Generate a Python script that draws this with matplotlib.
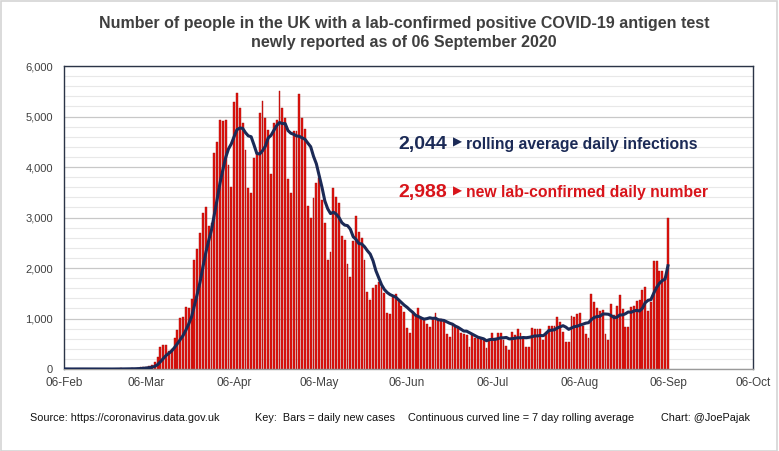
import matplotlib
matplotlib.use("Agg")
import matplotlib.pyplot as plt
import matplotlib.dates as mdates
import matplotlib.patches as patches
import pandas as pd

# daily newly reported lab-confirmed cases, 06 Feb 2020 .. 06 Sep 2020
daily_cases = [
    2, 0, 1, 0, 4, 0, 1, 0, 0, 0, 0, 0, 0, 0, 0, 0, 0, 0, 0, 0, 13, 0, 3,
    4, 10, 5, 12, 30, 30, 45, 50, 70, 130,
    245, 435, 475, 475, 350, 400, 610, 770, 1010, 1030,
    1235, 1200, 1390, 2160, 2375, 2700, 3085, 3200, 2830, 2900,
    4283, 4501, 4930, 4910, 4930, 4039, 3610, 5293, 5459, 5162,
    4864, 4336, 3590, 3491, 4172, 4270, 5075, 5313, 4963, 4732,
    3855, 4864, 4930, 5511, 5162, 4963, 3762, 3491, 4712, 4712,
    5445, 4963,
    4752, 3234, 2996, 3379, 3676, 3775, 3346, 2884, 2158, 2323,
    3577, 3412, 3293, 2633, 2554, 2079, 1828, 2534, 3036, 2719,
    2588, 2158, 1531, 1366, 1597, 1663, 1729, 1630, 1498, 1115,
    1082, 1419, 1485, 1366, 1247, 1135, 818, 706, 1102, 1069,
    1201, 1036, 983, 884, 825, 1016, 1102, 983, 983, 937,
    686, 640, 884, 838, 805, 719, 686, 673, 429,
    673, 620, 607, 607, 574, 409, 574, 719, 607, 719,
    719, 581, 455, 376, 739, 673, 785, 719, 617, 429,
    429, 818, 785, 785, 785, 581, 739, 851, 851, 851, 1036,
    937, 739, 541, 541, 1049, 1036, 1082, 1102, 858, 686,
    607, 1478, 1333, 1201, 1148, 1168, 686, 574, 1280, 1069,
    1247, 1465, 1181, 838, 825, 1234, 1247, 1346, 1366, 1564,
    1617, 1148, 1333, 2138, 2138, 1940, 1940, 1831, 2988,
]
start_date = "2020-02-06"
tick_dates = ["2020-02-06", "2020-03-06", "2020-04-06", "2020-05-06", "2020-06-06",
              "2020-07-06", "2020-08-06", "2020-09-06", "2020-10-06"]

title = ("Number of people in the UK with a lab-confirmed positive COVID-19 antigen test\n"
         "newly reported as of 06 September 2020")
avg_label = "2,044"
day_label = "2,988"

dates = pd.date_range(start_date, periods=len(daily_cases), freq="D")
cases = pd.Series(daily_cases, index=dates)
rolling = cases.rolling(7, min_periods=1).mean()

plt.rcParams["font.family"] = ["Liberation Sans", "DejaVu Sans"]

navy = "#1b2a56"
red = "#d8141a"
txt = "#404040"

fig = plt.figure(figsize=(7.79, 4.51), dpi=100)
ax = fig.add_axes([64 / 779, 1 - 369 / 451, (753 - 64) / 779, (369 - 66) / 451])

ax.bar(cases.index, cases.values, width=0.66, color="#e3120b",
       edgecolor="#a01010", linewidth=0.3, zorder=2)
ax.plot(rolling.index, rolling.values, color=navy, linewidth=2.2, zorder=3)

ax.set_ylim(0, 6000)
ax.set_xlim(pd.Timestamp(tick_dates[0]), pd.Timestamp(tick_dates[-1]))
ax.set_yticks(range(0, 6001, 1000))
ax.set_yticks(range(0, 6001, 200), minor=True)
ax.yaxis.set_major_formatter(matplotlib.ticker.FuncFormatter(lambda v, p: f"{int(v):,}"))
ax.set_xticks(pd.to_datetime(tick_dates))
ax.xaxis.set_major_formatter(mdates.DateFormatter("%d-%b"))
ax.tick_params(axis="both", which="both", length=0, labelsize=8.5, colors=txt, pad=6)
ax.tick_params(axis="y", pad=8, labelsize=8)
ax.grid(axis="y", which="major", color="#c8c8c8", linewidth=0.9, zorder=0)
ax.grid(axis="y", which="minor", color="#e8e8e8", linewidth=0.8, zorder=0)
ax.set_axisbelow(True)
for s in ax.spines.values():
    s.set_color("#2b3447")
    s.set_linewidth(1.0)
ax.spines["bottom"].set_color("#9a9a9a")

# annotations
ax.text(0.485, 0.727, avg_label, transform=ax.transAxes, fontsize=14, fontweight="bold",
        color=navy, va="baseline")
ax.text(0.564, 0.748, "\u25B6", transform=ax.transAxes, fontsize=8.5, color=navy,
        family=["DejaVu Sans"], va="center")
ax.text(0.583, 0.727, "rolling average daily infections", transform=ax.transAxes,
        fontsize=11.3, fontweight="bold", color=navy, va="baseline")
ax.text(0.485, 0.568, day_label, transform=ax.transAxes, fontsize=14, fontweight="bold",
        color=red, va="baseline")
ax.text(0.564, 0.589, "\u25B6", transform=ax.transAxes, fontsize=8.5, color=red,
        family=["DejaVu Sans"], va="center")
ax.text(0.583, 0.568, "new lab-confirmed daily number", transform=ax.transAxes,
        fontsize=11.3, fontweight="bold", color=red, va="baseline")

fig.text(0.519, 0.927, title, ha="center", va="center", fontsize=11.5,
         fontweight="bold", color="#3f3f3f", linespacing=1.3)

fy = 1 - 418 / 451
foot = "#111111"
fig.text(30 / 779, fy, "Source: https://coronavirus.data.gov.uk", fontsize=7.8, va="center", color=foot)
fig.text(255 / 779, fy, "Key:  Bars = daily new cases", fontsize=7.8, va="center", color=foot)
fig.text(408 / 779, fy, "Continuous curved line = 7 day rolling average", fontsize=7.8, va="center", color=foot)
fig.text(661 / 779, fy, "Chart: @JoePajak", fontsize=7.8, va="center", color=foot)

fig.patches.append(patches.Rectangle((0.001, 0.001), 0.997, 0.997, transform=fig.transFigure,
                                     fill=False, edgecolor="#d4d4d4", linewidth=1.2))

fig.savefig("out.png", dpi=100, facecolor="white")
